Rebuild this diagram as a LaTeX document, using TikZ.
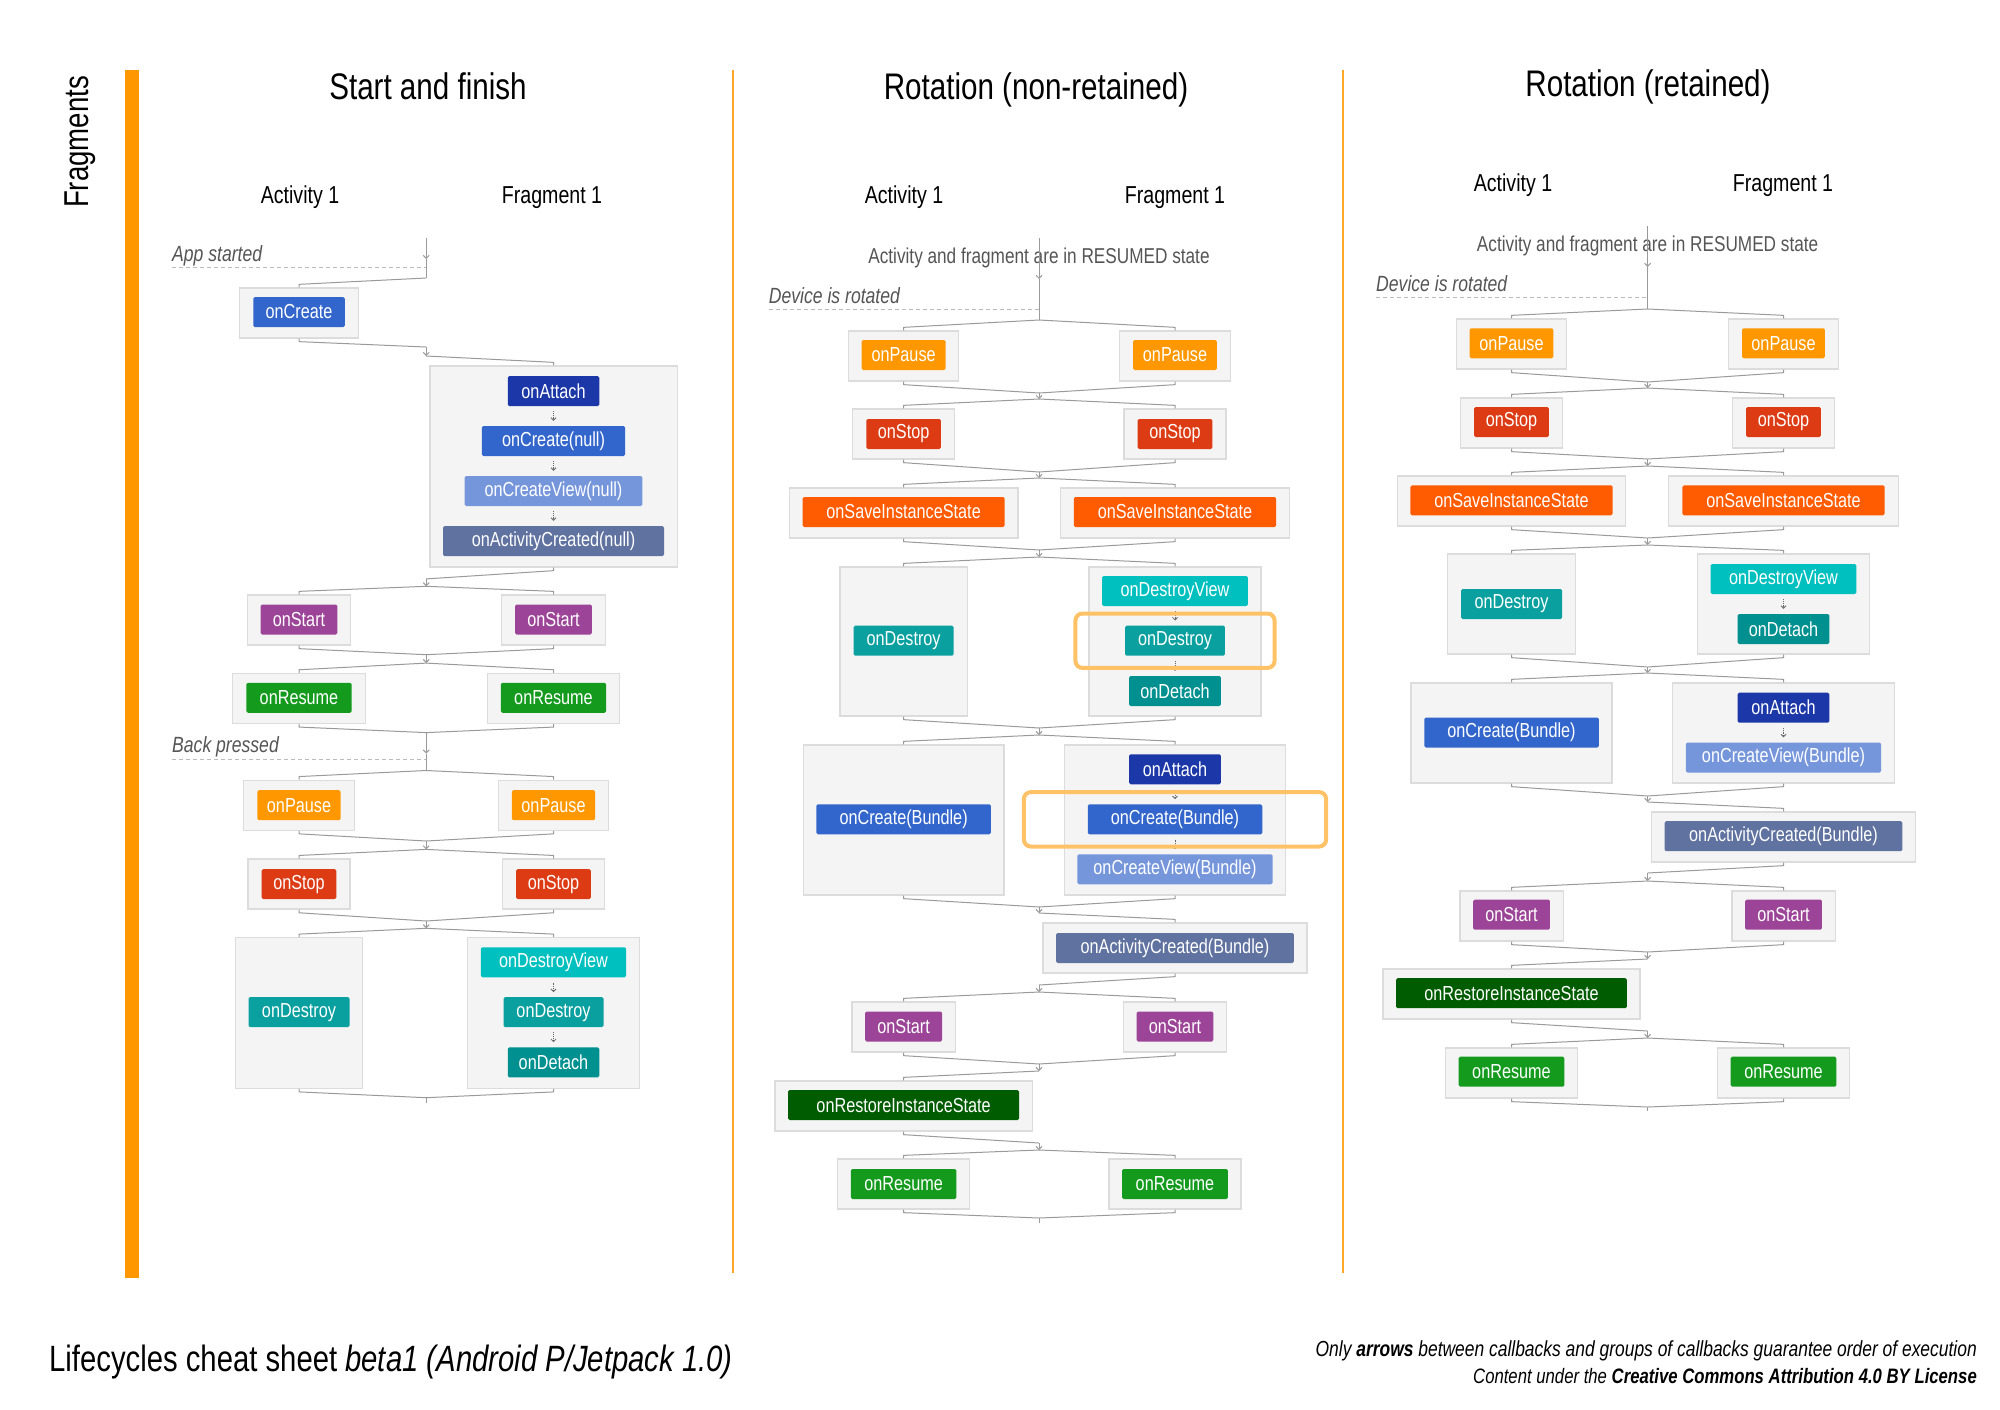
\documentclass[tikz,border=0pt]{standalone}
\usepackage{fontspec}
\setmainfont[FakeStretch=0.8]{Liberation Sans}
\usetikzlibrary{arrows.meta,fit}
\definecolor{cPause}{HTML}{FF9800}
\definecolor{cStop}{HTML}{DD3B14}
\definecolor{cSave}{HTML}{FF5B00}
\definecolor{cCreate}{HTML}{3366CC}
\definecolor{cAttach}{HTML}{1C38A8}
\definecolor{cView}{HTML}{7696DC}
\definecolor{cAct}{HTML}{5F72A0}
\definecolor{cStart}{HTML}{9C4497}
\definecolor{cResume}{HTML}{149A1D}
\definecolor{cRestore}{HTML}{005C00}
\definecolor{cDestroy}{HTML}{0AA0A0}
\definecolor{cDView}{HTML}{00BFBF}
\definecolor{cDetach}{HTML}{009090}
\definecolor{obfill}{HTML}{F4F4F4}
\definecolor{obline}{HTML}{DCDCDC}
\definecolor{connc}{HTML}{9A9A9A}
\definecolor{inc}{HTML}{666666}
\definecolor{hlc}{HTML}{FFC266}
\definecolor{barc}{HTML}{FF9800}
\definecolor{sepc}{HTML}{FFA726}
\definecolor{graytext}{HTML}{555555}
\definecolor{dashc}{HTML}{BBBBBB}
\newcommand\cbfont{\fontsize{20.3}{22}\selectfont}
\newcommand\ob[5]{\node[ob, minimum width=#4pt, minimum height=#5pt] (#1) at (#2,#3) {};}
\newcommand\cbx[6]{\node[cb=#5, minimum width=#4pt] (#1) at (#2,#3) {#6};}
\newcommand\mrg[2]{\draw[conn] (#1.south) -- ([yshift=-3pt]#1.south) -- (#2);}
\newcommand\spl[2]{\draw[conn] (#1) -- ([yshift=3pt]#2.north) -- (#2.north);}
\newcommand\arr[2]{\draw[conn,tip] (#1) -- (#2);}
\newcommand\inar[2]{\draw[inarr] ([yshift=-5pt]#1.south) -- ([yshift=5pt]#2.north);}
\tikzset{
  ob/.style={draw=obline, fill=obfill, line width=1.3pt, inner sep=0pt},
  cb/.style={fill=#1, text=white, minimum height=30pt, inner sep=0pt, rounded corners=1.5pt, font=\cbfont},
  conn/.style={draw=connc, line width=1pt},
  tip/.style={-{Straight Barb[length=3pt,width=6pt]}},
  inarr/.style={draw=inc, line width=0.8pt, densely dotted, -{Straight Barb[length=2.5pt,width=5pt]}},
  hl/.style={draw=hlc, line width=4pt, rounded corners=7pt, inner ysep=12pt},
  title/.style={font=\fontsize{37}{42}\selectfont, anchor=base, inner sep=0pt},
  colhead/.style={font=\fontsize{24.5}{28}\selectfont, anchor=base, inner sep=0pt},
  state/.style={font=\fontsize{21.5}{24}\selectfont, text=graytext, anchor=base, inner sep=0pt},
  evt/.style={font=\fontsize{22}{24}\selectfont\itshape, text=graytext, anchor=base west, inner sep=0pt},
  dline/.style={draw=dashc, line width=1pt, dash pattern=on 4pt off 3pt},
  foot/.style={anchor=base east, inner sep=0pt},
}
\begin{document}
\begin{tikzpicture}[x=1pt,y=-1pt]
\useasboundingbox (0,0) rectangle (2000,1409);
\fill[white] (0,0) rectangle (2000,1409);
% side bar and separators
\fill[barc] (125,70) rectangle (139,1278);
\draw[sepc, line width=2pt] (733,70) -- (733,1273);
\draw[sepc, line width=2pt] (1343,70) -- (1343,1273);
\node[rotate=90, anchor=base, inner sep=0pt, font=\fontsize{34.5}{38}\selectfont] (frag) at (88,142) {Fragments};
% titles
\node[title] (t1) at (428,99) {Start and finish};
\node[title] (t2) at (1036,99) {Rotation (non-retained)};
\node[title] (t3) at (1648,96) {Rotation (retained)};
\node[colhead] (h1a) at (300,203) {Activity 1};
\node[colhead] (h1f) at (552,203) {Fragment 1};
\node[colhead] (h2a) at (904,203) {Activity 1};
\node[colhead] (h2f) at (1175,203) {Fragment 1};
\node[colhead] (h3a) at (1513,191.5) {Activity 1};
\node[colhead] (h3f) at (1783,191.5) {Fragment 1};

% ================= Panel 1 =================
\ob{A1}{299}{313}{118.9}{50} \cbx{a1}{299}{312}{91.5}{cCreate}{onCreate}
\ob{F1}{553.5}{466.5}{247.3}{201}
\cbx{f1attach}{553.5}{391}{91.5}{cAttach}{onAttach}
\cbx{f1create}{553.5}{441}{143.1}{cCreate}{onCreate(null)}
\cbx{f1view}{553.5}{491}{177.8}{cView}{onCreateView(null)}
\cbx{f1act}{553.5}{541}{221}{cAct}{onActivityCreated(null)}
\inar{f1attach}{f1create} \inar{f1create}{f1view} \inar{f1view}{f1act}
\ob{A2}{299}{620}{103.1}{50} \cbx{a2}{299}{619.5}{76.8}{cStart}{onStart}
\ob{F2}{553.5}{620}{104.2}{50} \cbx{f2}{553.5}{619.5}{76.8}{cStart}{onStart}
\ob{A3}{299}{698.4}{132.6}{50} \cbx{a3}{299}{697.8}{105.2}{cResume}{onResume}
\ob{F3}{553.5}{698.4}{131.5}{50} \cbx{f3}{553.5}{697.8}{105.2}{cResume}{onResume}
\ob{A4}{299}{805.2}{110.5}{50} \cbx{a4}{299}{805.2}{83.1}{cPause}{onPause}
\ob{F4}{553.5}{805.2}{110.5}{50} \cbx{f4}{553.5}{805.2}{83.1}{cPause}{onPause}
\ob{A5}{299}{884.1}{102.1}{50} \cbx{a5}{299}{884.1}{74.7}{cStop}{onStop}
\ob{F5}{553.5}{884.1}{102.1}{50} \cbx{f5}{553.5}{884.1}{74.7}{cStop}{onStop}
\ob{A6}{299}{1013}{127.3}{150.5} \cbx{a6}{299}{1012.2}{101}{cDestroy}{onDestroy}
\ob{F6}{553.5}{1013}{171.5}{150.5}
\cbx{f6dview}{553.5}{962.3}{145.2}{cDView}{onDestroyView}
\cbx{f6destroy}{553.5}{1012.2}{100}{cDestroy}{onDestroy}
\cbx{f6detach}{553.5}{1062.4}{91.5}{cDetach}{onDetach}
\inar{f6dview}{f6destroy} \inar{f6destroy}{f6detach}

\node[evt] (ev1) at (172,261) {App started};
\draw[dline] (172,267) -- (426.2,267);
\node[evt] (ev2) at (172,752.6) {Back pressed};
\draw[dline] (172,759.2) -- (426.2,759.2);

\coordinate (p1s) at (426.2,238); \coordinate (p1s2) at (426.2,259); \coordinate (p1d0) at (426.2,278);
\draw[conn,tip] (p1s) -- (p1s2); \draw[conn] (p1s2) -- (p1d0); \spl{p1d0}{A1}
\coordinate (p1m1) at (426.2,347); \coordinate (p1d1) at (426.2,356);
\mrg{A1}{p1m1} \arr{p1m1}{p1d1} \spl{p1d1}{F1}
\coordinate (p1m2) at (426.2,578.9); \coordinate (p1d2) at (426.2,586.3);
\mrg{F1}{p1m2} \arr{p1m2}{p1d2} \spl{p1d2}{A2} \spl{p1d2}{F2}
\coordinate (p1m3) at (426.2,654.7); \coordinate (p1d3) at (426.2,663.1);
\mrg{A2}{p1m3} \mrg{F2}{p1m3} \arr{p1m3}{p1d3} \spl{p1d3}{A3} \spl{p1d3}{F3}
\coordinate (p1m4) at (426.2,732.6); \coordinate (p1b) at (426.2,753.6); \coordinate (p1d4) at (426.2,770.5);
\mrg{A3}{p1m4} \mrg{F3}{p1m4} \arr{p1m4}{p1b} \draw[conn] (p1b) -- (p1d4); \spl{p1d4}{A4} \spl{p1d4}{F4}
\coordinate (p1m5) at (426.2,841); \coordinate (p1d5) at (426.2,849.4);
\mrg{A4}{p1m5} \mrg{F4}{p1m5} \arr{p1m5}{p1d5} \spl{p1d5}{A5} \spl{p1d5}{F5}
\coordinate (p1m6) at (426.2,921); \coordinate (p1d6) at (426.2,928.3);
\mrg{A5}{p1m6} \mrg{F5}{p1m6} \arr{p1m6}{p1d6} \spl{p1d6}{A6} \spl{p1d6}{F6}
\coordinate (p1m7) at (426.2,1097.7); \coordinate (p1e) at (426.2,1103);
\mrg{A6}{p1m7} \mrg{F6}{p1m7} \draw[conn] (p1m7) -- (p1e);

% ================= Panel 2 =================
\ob{B1}{903.6}{356}{110.2}{50} \cbx{b1}{903.6}{355}{83.8}{cPause}{onPause}
\ob{G1}{1175}{356}{111.4}{50} \cbx{g1}{1175}{355}{83.8}{cPause}{onPause}
\ob{B2}{903.6}{434}{102.2}{50} \cbx{b2}{903.6}{434}{74.6}{cStop}{onStop}
\ob{G2}{1175}{434}{102.2}{50} \cbx{g2}{1175}{434}{74.6}{cStop}{onStop}
\ob{B3}{903.6}{513}{228.5}{50} \cbx{b3}{903.6}{512}{202.1}{cSave}{onSaveInstanceState}
\ob{G3}{1175}{513}{229.6}{50} \cbx{g3}{1175}{512}{202.1}{cSave}{onSaveInstanceState}
\ob{B4}{903.6}{641.5}{127.4}{149} \cbx{b4}{903.6}{640.7}{99.9}{cDestroy}{onDestroy}
\ob{G4}{1175}{641.5}{172.2}{149}
\cbx{g4dview}{1175}{591}{145.8}{cDView}{onDestroyView}
\cbx{g4destroy}{1175}{640.7}{99.9}{cDestroy}{onDestroy}
\cbx{g4detach}{1175}{691}{91.8}{cDetach}{onDetach}
\inar{g4dview}{g4destroy} \inar{g4destroy}{g4detach}
\ob{B5}{903.6}{820}{200.9}{150} \cbx{b5}{903.6}{819.3}{174.5}{cCreate}{onCreate(Bundle)}
\ob{G5}{1175}{820}{220.4}{150}
\cbx{g5attach}{1175}{769.3}{91.8}{cAttach}{onAttach}
\cbx{g5create}{1175}{819.3}{174.5}{cCreate}{onCreate(Bundle)}
\cbx{g5view}{1175}{869.3}{195.2}{cView}{onCreateView(Bundle)}
\inar{g5attach}{g5create} \inar{g5create}{g5view}
\ob{G6}{1175}{948}{264.1}{50} \cbx{g6}{1175}{948}{237.7}{cAct}{onActivityCreated(Bundle)}
\ob{B7}{903.6}{1027}{103.3}{50} \cbx{b7}{903.6}{1026.5}{76.9}{cStart}{onStart}
\ob{G7}{1175}{1027}{103.3}{50} \cbx{g7}{1175}{1026.5}{76.9}{cStart}{onStart}
\ob{B8}{903.6}{1106}{257.2}{50} \cbx{b8}{903.6}{1105}{230.8}{cRestore}{onRestoreInstanceState}
\ob{B9}{903.6}{1184}{132}{50} \cbx{b9}{903.6}{1184}{105.6}{cResume}{onResume}
\ob{G9}{1175}{1184}{132}{50} \cbx{g9}{1175}{1184}{105.6}{cResume}{onResume}
\node[hl, fit=(g4destroy), inner xsep=49.4pt] (hl1) {};
\node[hl, fit=(g5create), inner xsep=63.7pt] (hl2) {};

\node[state] (st2) at (1039,263) {Activity and fragment are in RESUMED state};
\node[evt] (ev3) at (768.7,303) {Device is rotated};
\draw[dline] (768.7,309.3) -- (1039,309.3);

\coordinate (p2s) at (1039,238); \coordinate (p2s2) at (1039,279); \coordinate (p2d0) at (1039,320);
\draw[conn,tip] (p2s) -- (p2s2); \draw[conn] (p2s2) -- (p2d0); \spl{p2d0}{B1} \spl{p2d0}{G1}
\coordinate (p2m1) at (1039,393); \coordinate (p2d1) at (1039,399);
\mrg{B1}{p2m1} \mrg{G1}{p2m1} \arr{p2m1}{p2d1} \spl{p2d1}{B2} \spl{p2d1}{G2}
\coordinate (p2m2) at (1039,472); \coordinate (p2d2) at (1039,478);
\mrg{B2}{p2m2} \mrg{G2}{p2m2} \arr{p2m2}{p2d2} \spl{p2d2}{B3} \spl{p2d2}{G3}
\coordinate (p2m3) at (1039,550); \coordinate (p2d3) at (1039,557);
\mrg{B3}{p2m3} \mrg{G3}{p2m3} \arr{p2m3}{p2d3} \spl{p2d3}{B4} \spl{p2d3}{G4}
\coordinate (p2m4) at (1039,728); \coordinate (p2d4) at (1039,735);
\mrg{B4}{p2m4} \mrg{G4}{p2m4} \arr{p2m4}{p2d4} \spl{p2d4}{B5} \spl{p2d4}{G5}
\coordinate (p2m5) at (1039,907); \coordinate (p2d5) at (1039,913);
\mrg{B5}{p2m5} \mrg{G5}{p2m5} \arr{p2m5}{p2d5} \spl{p2d5}{G6}
\coordinate (p2m6) at (1039,985); \coordinate (p2d6) at (1039,992);
\mrg{G6}{p2m6} \arr{p2m6}{p2d6} \spl{p2d6}{B7} \spl{p2d6}{G7}
\coordinate (p2m7) at (1039,1064); \coordinate (p2d7) at (1039,1071);
\mrg{B7}{p2m7} \mrg{G7}{p2m7} \arr{p2m7}{p2d7} \spl{p2d7}{B8}
\coordinate (p2m8) at (1039,1143); \coordinate (p2d8) at (1039,1150);
\mrg{B8}{p2m8} \arr{p2m8}{p2d8} \spl{p2d8}{B9} \spl{p2d8}{G9}
\coordinate (p2m9) at (1039,1218); \coordinate (p2e) at (1039,1223);
\mrg{B9}{p2m9} \mrg{G9}{p2m9} \draw[conn] (p2m9) -- (p2e);

% ================= Panel 3 =================
\ob{C1}{1511.5}{344}{110.2}{50} \cbx{c1}{1511.5}{343.3}{83.8}{cPause}{onPause}
\ob{H1}{1783.5}{344}{110.2}{50} \cbx{h1}{1783.5}{343.3}{82.7}{cPause}{onPause}
\ob{C2}{1511.5}{423}{102.2}{50} \cbx{c2}{1511.5}{422}{74.6}{cStop}{onStop}
\ob{H2}{1783.5}{423}{102.2}{50} \cbx{h2}{1783.5}{422}{74.6}{cStop}{onStop}
\ob{C3}{1511.5}{501}{228.5}{50} \cbx{c3}{1511.5}{500.3}{202.1}{cSave}{onSaveInstanceState}
\ob{H3}{1783.5}{501}{229.6}{50} \cbx{h3}{1783.5}{500.3}{202.1}{cSave}{onSaveInstanceState}
\ob{C4}{1511.5}{604}{127.4}{100} \cbx{c4}{1511.5}{604}{101}{cDestroy}{onDestroy}
\ob{H4}{1783.5}{604}{172.2}{100}
\cbx{h4dview}{1783.5}{579}{145.8}{cDView}{onDestroyView}
\cbx{h4detach}{1783.5}{629}{91.8}{cDetach}{onDetach}
\inar{h4dview}{h4detach}
\ob{C5}{1511.5}{733}{200.9}{100} \cbx{c5}{1511.5}{732.5}{174.5}{cCreate}{onCreate(Bundle)}
\ob{H5}{1783.5}{733}{221.6}{100}
\cbx{h5attach}{1783.5}{707.7}{91.8}{cAttach}{onAttach}
\cbx{h5view}{1783.5}{757.5}{195.2}{cView}{onCreateView(Bundle)}
\inar{h5attach}{h5view}
\ob{H6}{1783.5}{837}{264.1}{50} \cbx{h6}{1783.5}{836.2}{237.7}{cAct}{onActivityCreated(Bundle)}
\ob{C7}{1511.5}{916}{103.3}{50} \cbx{c7}{1511.5}{914.7}{76.9}{cStart}{onStart}
\ob{H7}{1783.5}{916}{103.3}{50} \cbx{h7}{1783.5}{914.7}{76.9}{cStart}{onStart}
\ob{C8}{1511.5}{994}{257.2}{50} \cbx{c8}{1511.5}{993.2}{230.8}{cRestore}{onRestoreInstanceState}
\ob{C9}{1511.5}{1073}{132}{50} \cbx{c9}{1511.5}{1071.7}{105.6}{cResume}{onResume}
\ob{H9}{1783.5}{1073}{132}{50} \cbx{h9}{1783.5}{1071.7}{105.6}{cResume}{onResume}

\node[state] (st3) at (1647.6,251.7) {Activity and fragment are in RESUMED state};
\node[evt] (ev4) at (1376,291.7) {Device is rotated};
\draw[dline] (1376,297.7) -- (1647.6,297.7);

\coordinate (p3s) at (1647.6,226); \coordinate (p3s2) at (1647.6,267); \coordinate (p3d0) at (1647.6,309);
\draw[conn,tip] (p3s) -- (p3s2); \draw[conn] (p3s2) -- (p3d0); \spl{p3d0}{C1} \spl{p3d0}{H1}
\coordinate (p3m1) at (1647.6,382); \coordinate (p3d1) at (1647.6,388);
\mrg{C1}{p3m1} \mrg{H1}{p3m1} \arr{p3m1}{p3d1} \spl{p3d1}{C2} \spl{p3d1}{H2}
\coordinate (p3m2) at (1647.6,459); \coordinate (p3d2) at (1647.6,466);
\mrg{C2}{p3m2} \mrg{H2}{p3m2} \arr{p3m2}{p3d2} \spl{p3d2}{C3} \spl{p3d2}{H3}
\coordinate (p3m3) at (1647.6,538); \coordinate (p3d3) at (1647.6,545);
\mrg{C3}{p3m3} \mrg{H3}{p3m3} \arr{p3m3}{p3d3} \spl{p3d3}{C4} \spl{p3d3}{H4}
\coordinate (p3m4) at (1647.6,667); \coordinate (p3d4) at (1647.6,673);
\mrg{C4}{p3m4} \mrg{H4}{p3m4} \arr{p3m4}{p3d4} \spl{p3d4}{C5} \spl{p3d4}{H5}
\coordinate (p3m5) at (1647.6,796); \coordinate (p3d5) at (1647.6,802);
\mrg{C5}{p3m5} \mrg{H5}{p3m5} \arr{p3m5}{p3d5} \spl{p3d5}{H6}
\coordinate (p3m6) at (1647.6,873); \coordinate (p3d6) at (1647.6,881);
\mrg{H6}{p3m6} \arr{p3m6}{p3d6} \spl{p3d6}{C7} \spl{p3d6}{H7}
\coordinate (p3m7) at (1647.6,952); \coordinate (p3d7) at (1647.6,959);
\mrg{C7}{p3m7} \mrg{H7}{p3m7} \arr{p3m7}{p3d7} \spl{p3d7}{C8}
\coordinate (p3m8) at (1647.6,1031); \coordinate (p3d8) at (1647.6,1038);
\mrg{C8}{p3m8} \arr{p3m8}{p3d8} \spl{p3d8}{C9} \spl{p3d8}{H9}
\coordinate (p3m9) at (1647.6,1107); \coordinate (p3e) at (1647.6,1111);
\mrg{C9}{p3m9} \mrg{H9}{p3m9} \draw[conn] (p3m9) -- (p3e);

% ================= Footer =================
\node[anchor=base west, inner sep=0pt, font=\fontsize{36.6}{40}\selectfont] (ftitle) at (49,1371) {Lifecycles cheat sheet \textit{beta1 (Android P/Jetpack 1.0)}};
\node[foot, font=\fontsize{21.8}{24}\selectfont\itshape] (fn1) at (1977,1356) {Only \textbf{arrows} between callbacks and groups of callbacks guarantee order of execution};
\node[foot, font=\fontsize{20.9}{24}\selectfont\itshape] (fn2) at (1977,1383.3) {Content under the \textbf{Creative Commons Attribution 4.0 BY License}};
\end{tikzpicture}
\end{document}
